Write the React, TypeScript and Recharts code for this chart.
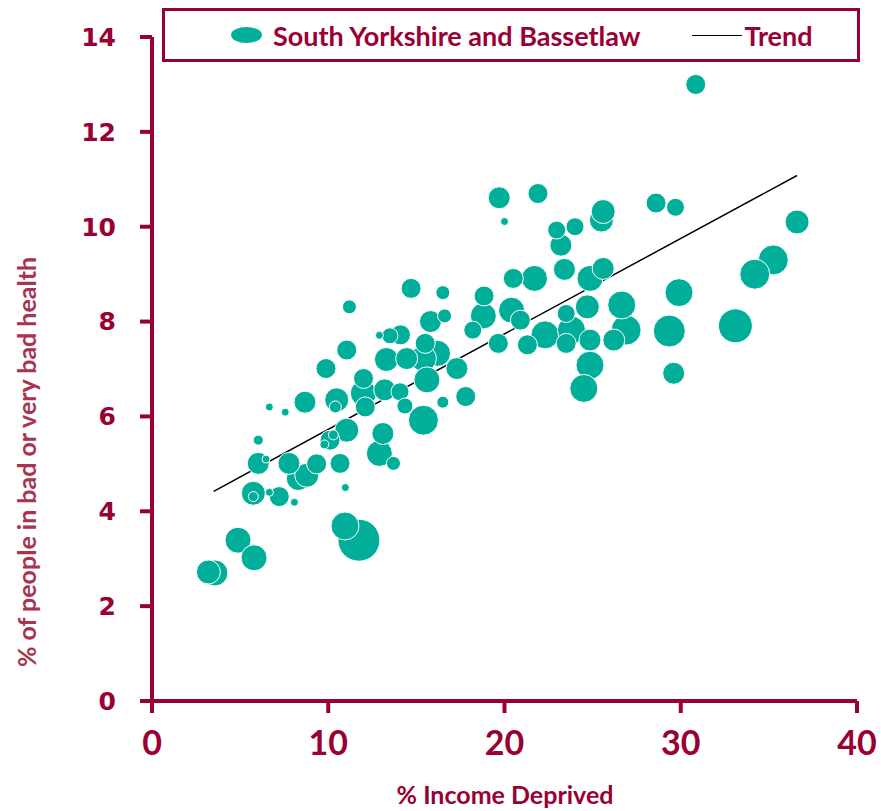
import { ScatterChart, Scatter, XAxis, YAxis, ZAxis, ReferenceLine } from 'recharts';

// % income deprived (x), % bad/very bad health (y), population weight (bubble size)
const incomeDeprived = [
  3.2, 3.57, 4.88, 5.79, 11.74, 10.95, 6.66, 7.56, 8.68, 10.48, 10.4, 11.99, 6.03, 11.05, 10.29, 9.78,
  10.1, 6.03, 6.47, 7.77, 9.34, 8.3, 8.78, 10.67, 5.75, 5.75, 6.66, 7.22, 8.08, 10.97, 14.7, 16.5,
  11.2, 18.84, 18.8, 18.2, 15.8, 16.6, 12.9, 13.5, 14.1, 11.05, 15.5, 16.2, 15.4, 14.45, 13.3, 17.3,
  9.87, 15.6, 12.0, 13.2, 14.07, 12.1, 14.35, 15.4, 17.8, 16.5, 13.1, 12.9, 13.7, 19.7, 21.9, 20.0,
  22.96, 24.0, 25.5, 25.6, 23.2, 23.4, 25.6, 24.85, 20.5, 21.7, 20.4, 20.9, 19.65, 21.3, 22.3, 23.5,
  23.8, 23.5, 24.7, 24.85, 26.65, 26.9, 26.2, 24.85, 24.5, 29.6, 29.9, 29.35, 33.1, 30.85, 28.6, 29.7,
  36.6, 35.25, 34.2,
];
const badHealth = [
  2.72, 2.7, 3.39, 3.02, 3.39, 3.69, 6.2, 6.09, 6.3, 6.35, 6.2, 6.49, 5.5, 5.71, 5.61, 5.41,
  5.5, 5.01, 5.1, 5.01, 5.0, 4.69, 4.76, 5.01, 4.38, 4.31, 4.4, 4.31, 4.19, 4.5, 8.7, 8.61,
  8.31, 8.54, 8.12, 7.82, 8.0, 8.12, 7.71, 7.7, 7.72, 7.4, 7.54, 7.33, 7.22, 7.22, 7.2, 7.01,
  7.01, 6.77, 6.8, 6.56, 6.52, 6.2, 6.22, 5.92, 6.42, 6.3, 5.64, 5.22, 5.01, 10.61, 10.7, 10.11,
  9.93, 10.0, 10.14, 10.32, 9.61, 9.1, 9.12, 8.91, 8.91, 8.91, 8.24, 8.03, 7.54, 7.51, 7.72, 7.54,
  7.82, 8.17, 8.31, 7.61, 8.35, 7.82, 7.61, 7.08, 6.59, 6.91, 8.61, 7.8, 7.91, 13.0, 10.5, 10.41,
  10.1, 9.3, 9.0,
];
const population = [
  144, 169, 169, 169, 441, 196, 16, 16, 121, 144, 36, 169, 25, 144, 25, 20,
  100, 121, 16, 121, 100, 144, 144, 100, 144, 25, 16, 100, 16, 16, 100, 49,
  49, 100, 169, 81, 121, 49, 16, 64, 100, 100, 100, 169, 169, 121, 144, 121,
  100, 169, 100, 121, 81, 100, 64, 225, 100, 36, 121, 169, 49, 121, 100, 16,
  81, 81, 144, 144, 121, 121, 121, 169, 100, 169, 169, 100, 100, 100, 196, 100,
  196, 81, 144, 121, 196, 225, 121, 196, 196, 121, 196, 256, 289, 100, 100, 81,
  144, 225, 225,
];

const trendX = [3.5, 36.6];
const trendY = [4.42, 11.08];

const xTicks = [0, 10, 20, 30, 40];
const yTicks = [0, 2, 4, 6, 8, 10, 12, 14];

const MAROON = '#990033';
const TEAL = '#00AE9A';

const points = incomeDeprived
  .map((x, i) => ({ x, y: badHealth[i], z: population[i] }))
  .sort((a, b) => b.z - a.z);

export default function App() {
  return (
    <div style={{ position: 'absolute', left: 0, top: 0, width: 881, height: 811, fontFamily: 'Lato, sans-serif' }}>
      <ScatterChart width={881} height={811} margin={{ top: 37, right: 24, bottom: 0, left: 0 }}>
        <XAxis
          type="number"
          dataKey="x"
          domain={[0, 40]}
          ticks={xTicks}
          height={110}
          axisLine={{ stroke: MAROON, strokeWidth: 4 }}
          tickLine={{ stroke: MAROON, strokeWidth: 4 }}
          tickSize={12}
          tickMargin={18}
          tick={{ fill: MAROON, fontSize: 34, fontWeight: 700, fontFamily: 'Lato' }}
          label={{
            content: () => (
              <text x={505} y={794} textAnchor="middle" dominantBaseline="central"
                fill={MAROON} fontSize={25} fontWeight={700} fontFamily="Lato">
                % Income Deprived
              </text>
            ),
          }}
        />
        <YAxis
          type="number"
          dataKey="y"
          domain={[0, 14]}
          ticks={yTicks}
          width={152}
          axisLine={{ stroke: MAROON, strokeWidth: 4 }}
          tickLine={{ stroke: MAROON, strokeWidth: 4 }}
          tickSize={12}
          tickMargin={24}
          tick={{ fill: MAROON, fontSize: 25, fontWeight: 700, fontFamily: 'DejaVu Sans' }}
          label={{
            content: () => (
              <text x={26} y={462} transform="rotate(-90, 26, 462)" textAnchor="middle" dominantBaseline="central"
                fill="#A8344F" fontSize={25} fontWeight={700} fontFamily="Lato">
                % of people in bad or very bad health
              </text>
            ),
          }}
        />
        <ZAxis type="number" dataKey="z" domain={[0, 441]} range={[0, 1385]} />
        <Scatter data={points} fill={TEAL} stroke="#ffffff" strokeWidth={1} isAnimationActive={false} />
        <ReferenceLine
          segment={[{ x: trendX[0], y: trendY[0] }, { x: trendX[1], y: trendY[1] }]}
          stroke="#000000"
          strokeWidth={1.5}
        />
      </ScatterChart>
      <div style={{
        position: 'absolute', left: 162, top: 8, width: 692, height: 48,
        border: `3px solid ${MAROON}`, display: 'flex', alignItems: 'center',
        color: MAROON, fontWeight: 700, fontSize: 27, fontFamily: 'Lato',
      }}>
        <span style={{ display: 'inline-block', width: 31, height: 16, borderRadius: '50%', background: TEAL, marginLeft: 66, marginRight: 11 }} />
        <span>South Yorkshire and Bassetlaw</span>
        <span style={{ display: 'inline-block', width: 50, height: 0, borderTop: '1.5px solid #000', marginLeft: 52, marginRight: 2 }} />
        <span>Trend</span>
      </div>
    </div>
  );
}
